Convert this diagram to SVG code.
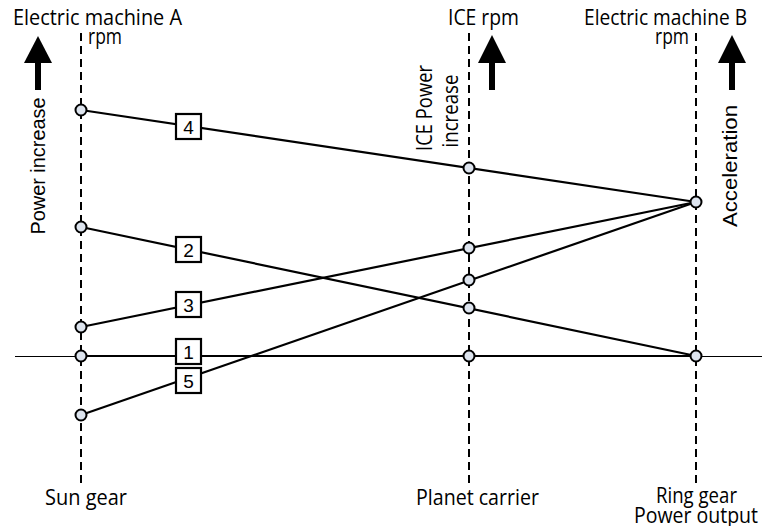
<svg xmlns="http://www.w3.org/2000/svg" width="762" height="526" viewBox="0 0 762 526">
<style>
.t{font-family:"Open Sans","Noto Sans",sans-serif;font-size:21px;fill:#000}
.r{font-family:"Liberation Sans",Arial,sans-serif;font-size:20px;fill:#000}
.n{font-family:"Liberation Sans",Arial,sans-serif;font-size:19px;fill:#000;text-anchor:middle}
.ax{stroke:#000;stroke-width:2;stroke-dasharray:8,5;fill:none}
.ln{stroke:#000;stroke-width:2.2;fill:none}
.pt{fill:#dde4ee;stroke:#000;stroke-width:2}
.bx{fill:#fff;stroke:#000;stroke-width:2.2}
</style>
<rect width="762" height="526" fill="#fff"/>
<g id="axes">
<line x1="15" y1="356.5" x2="762" y2="356.5" stroke="#000" stroke-width="1"/>
<line class="ax" x1="81" y1="33" x2="81" y2="485"/>
<line class="ax" x1="469" y1="33" x2="469" y2="485"/>
<line class="ax" x1="696" y1="33" x2="696" y2="485"/>
</g>
<g id="arrows" fill="#000">
<polygon points="38,36 52,63 24,63"/><rect x="35" y="62" width="6" height="28"/>
<polygon points="492,35 506,63 478,63"/><rect x="489" y="62" width="6" height="28"/>
<polygon points="732,35 746,63 718,63"/><rect x="729" y="62" width="6" height="28"/>
</g>
<g id="connectors">
<line class="ln" x1="81" y1="110" x2="696" y2="202"/>
<line class="ln" x1="81" y1="227" x2="696" y2="356"/>
<line class="ln" x1="81" y1="327" x2="696" y2="202"/>
<line class="ln" x1="81" y1="356" x2="696" y2="356"/>
<line class="ln" x1="81" y1="415" x2="696" y2="202"/>
</g>
<g id="points">
<circle class="pt" cx="81" cy="110" r="5.5"/>
<circle class="pt" cx="81" cy="227" r="5.5"/>
<circle class="pt" cx="81" cy="327" r="5.5"/>
<circle class="pt" cx="81" cy="356" r="5.5"/>
<circle class="pt" cx="81" cy="415" r="5.5"/>
<circle class="pt" cx="469" cy="168" r="5.5"/>
<circle class="pt" cx="469" cy="248" r="5.5"/>
<circle class="pt" cx="469" cy="280" r="5.5"/>
<circle class="pt" cx="469" cy="308" r="5.5"/>
<circle class="pt" cx="469" cy="356" r="5.5"/>
<circle class="pt" cx="696" cy="202" r="5.5"/>
<circle class="pt" cx="696" cy="356" r="5.5"/>
</g>
<g id="label4"><rect class="bx" x="176" y="114" width="25" height="25"/><text class="n" x="188.5" y="133.5">4</text></g>
<g id="label2"><rect class="bx" x="176" y="237" width="25" height="25"/><text class="n" x="188.5" y="256.5">2</text></g>
<g id="label3"><rect class="bx" x="176" y="292" width="25" height="25"/><text class="n" x="188.5" y="311.5">3</text></g>
<g id="label1"><rect class="bx" x="176" y="339" width="25" height="25"/><text class="n" x="188.5" y="358.5">1</text></g>
<g id="label5"><rect class="bx" x="176" y="368" width="25" height="25"/><text class="n" x="188.5" y="387.5">5</text></g>
<g id="texts">
<text class="t" x="13" y="25" textLength="169" lengthAdjust="spacingAndGlyphs">Electric machine A</text>
<text class="t" x="88" y="44" textLength="34" lengthAdjust="spacingAndGlyphs">rpm</text>
<text class="t" x="448" y="25" textLength="71" lengthAdjust="spacingAndGlyphs">ICE rpm</text>
<text class="t" x="584" y="25" textLength="163" lengthAdjust="spacingAndGlyphs">Electric machine B</text>
<text class="t" x="655" y="44" textLength="34" lengthAdjust="spacingAndGlyphs">rpm</text>
<text class="r" transform="translate(45,166) rotate(-90)" text-anchor="middle" textLength="137" lengthAdjust="spacingAndGlyphs">Power increase</text>
<text class="t" transform="translate(432,108) rotate(-90)" text-anchor="middle" textLength="86" lengthAdjust="spacingAndGlyphs">ICE Power</text>
<text class="t" transform="translate(458,111) rotate(-90)" text-anchor="middle" textLength="73" lengthAdjust="spacingAndGlyphs">increase</text>
<text class="r" transform="translate(737,166) rotate(-90)" text-anchor="middle" textLength="122" lengthAdjust="spacingAndGlyphs">Acceleration</text>
<text class="t" x="45" y="505" textLength="82" lengthAdjust="spacingAndGlyphs">Sun gear</text>
<text class="t" x="416" y="505" textLength="123" lengthAdjust="spacingAndGlyphs">Planet carrier</text>
<text class="t" x="656" y="503" textLength="81" lengthAdjust="spacingAndGlyphs">Ring gear</text>
<text class="t" x="634" y="523" textLength="124" lengthAdjust="spacingAndGlyphs">Power output</text>
</g>
</svg>
